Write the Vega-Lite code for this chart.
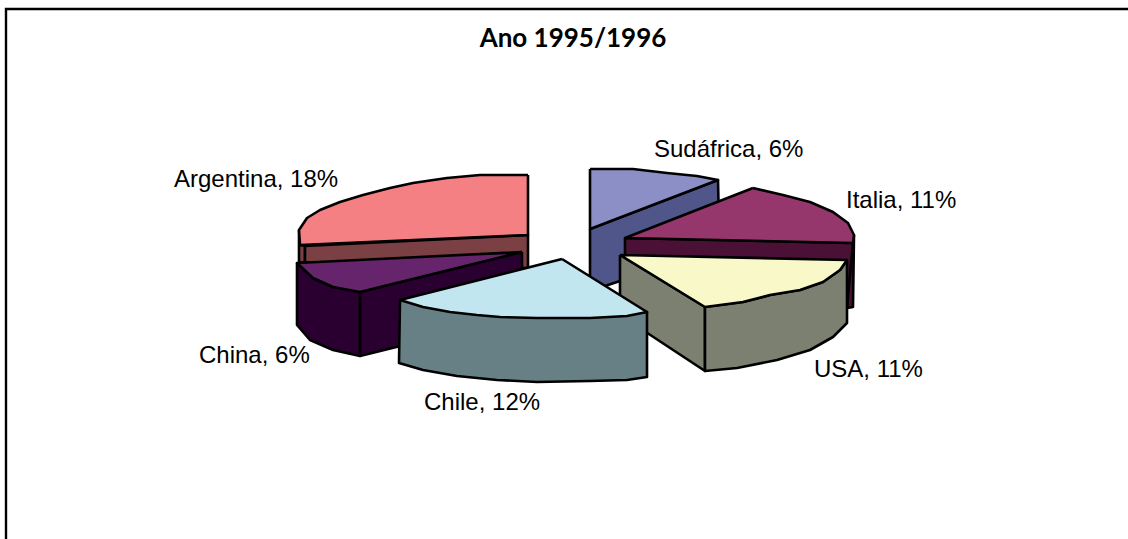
{"$schema":"https://vega.github.io/schema/vega-lite/v6.json","width":1128,"height":539,"padding":0,"autosize":{"type":"none"},"background":"white","view":{"stroke":null},
"title":{"text":"Ano 1995/1996","font":"Lato","fontWeight":"bold","fontSize":26,"color":"#000000","anchor":"middle","frame":"group","orient":"top","offset":-52,"dx":9},
"datasets":{"labels":[{"label":"Argentina, 18%","x":174,"y":180},{"label":"China, 6%","x":199,"y":356},{"label":"Chile, 12%","x":424,"y":403},{"label":"USA, 11%","x":814,"y":370},{"label":"Italia, 11%","x":846,"y":201},{"label":"Sudáfrica, 6%","x":654,"y":150}],
"frame":[{"x":6,"y":539,"i":0},{"x":6,"y":9,"i":1},{"x":1128,"y":9,"i":2}],
"faces":[
{"part":"a_arg_outer","i":0,"x":299,"y":230},{"part":"a_arg_outer","i":1,"x":300,"y":245},{"part":"a_arg_outer","i":2,"x":305,"y":246},{"part":"a_arg_outer","i":3,"x":305,"y":262},{"part":"a_arg_outer","i":4,"x":299,"y":263},{"part":"a_arg_outer","i":5,"x":299,"y":230},
{"part":"b_arg_side","i":0,"x":305,"y":246},{"part":"b_arg_side","i":1,"x":528,"y":235},{"part":"b_arg_side","i":2,"x":528,"y":268},{"part":"b_arg_side","i":3,"x":305,"y":262},{"part":"b_arg_side","i":4,"x":305,"y":246},
{"part":"c_arg_top","i":0,"x":528,"y":175},{"part":"c_arg_top","i":1,"x":480,"y":175},{"part":"c_arg_top","i":2,"x":447,"y":178},{"part":"c_arg_top","i":3,"x":413,"y":183},{"part":"c_arg_top","i":4,"x":390,"y":188},{"part":"c_arg_top","i":5,"x":363,"y":195},{"part":"c_arg_top","i":6,"x":340,"y":202},{"part":"c_arg_top","i":7,"x":320,"y":210},{"part":"c_arg_top","i":8,"x":307,"y":218},{"part":"c_arg_top","i":9,"x":299,"y":230},{"part":"c_arg_top","i":10,"x":300,"y":245},{"part":"c_arg_top","i":11,"x":528,"y":235},{"part":"c_arg_top","i":12,"x":528,"y":175},
{"part":"d_chn_inner","i":0,"x":522,"y":252},{"part":"d_chn_inner","i":1,"x":522,"y":316},{"part":"d_chn_inner","i":2,"x":360,"y":356},{"part":"d_chn_inner","i":3,"x":360,"y":292},{"part":"d_chn_inner","i":4,"x":522,"y":252},
{"part":"e_chn_outer","i":0,"x":297,"y":263},{"part":"e_chn_outer","i":1,"x":297,"y":325},{"part":"e_chn_outer","i":2,"x":310,"y":340},{"part":"e_chn_outer","i":3,"x":333,"y":350},{"part":"e_chn_outer","i":4,"x":360,"y":356},{"part":"e_chn_outer","i":5,"x":360,"y":292},{"part":"e_chn_outer","i":6,"x":333,"y":287},{"part":"e_chn_outer","i":7,"x":313,"y":278},{"part":"e_chn_outer","i":8,"x":297,"y":263},
{"part":"f_chn_top","i":0,"x":522,"y":252},{"part":"f_chn_top","i":1,"x":297,"y":263},{"part":"f_chn_top","i":2,"x":313,"y":278},{"part":"f_chn_top","i":3,"x":333,"y":287},{"part":"f_chn_top","i":4,"x":360,"y":292},{"part":"f_chn_top","i":5,"x":522,"y":252},
{"part":"g_sud_side","i":0,"x":590,"y":229},{"part":"g_sud_side","i":1,"x":718,"y":180},{"part":"g_sud_side","i":2,"x":719,"y":225},{"part":"g_sud_side","i":3,"x":620,"y":281},{"part":"g_sud_side","i":4,"x":590,"y":291},{"part":"g_sud_side","i":5,"x":590,"y":229},
{"part":"h_sud_top","i":0,"x":590,"y":169},{"part":"h_sud_top","i":1,"x":633,"y":169},{"part":"h_sud_top","i":2,"x":667,"y":173},{"part":"h_sud_top","i":3,"x":697,"y":176},{"part":"h_sud_top","i":4,"x":718,"y":180},{"part":"h_sud_top","i":5,"x":590,"y":229},{"part":"h_sud_top","i":6,"x":590,"y":169},
{"part":"i_ita_outer","i":0,"x":854,"y":235},{"part":"i_ita_outer","i":1,"x":853,"y":307},{"part":"i_ita_outer","i":2,"x":847,"y":308},{"part":"i_ita_outer","i":3,"x":847,"y":243},{"part":"i_ita_outer","i":4,"x":854,"y":235},
{"part":"j_ita_side","i":0,"x":625,"y":238},{"part":"j_ita_side","i":1,"x":853,"y":243},{"part":"j_ita_side","i":2,"x":847,"y":307},{"part":"j_ita_side","i":3,"x":625,"y":262},{"part":"j_ita_side","i":4,"x":625,"y":238},
{"part":"k_ita_top","i":0,"x":753,"y":188},{"part":"k_ita_top","i":1,"x":783,"y":195},{"part":"k_ita_top","i":2,"x":810,"y":202},{"part":"k_ita_top","i":3,"x":833,"y":212},{"part":"k_ita_top","i":4,"x":848,"y":223},{"part":"k_ita_top","i":5,"x":854,"y":235},{"part":"k_ita_top","i":6,"x":853,"y":243},{"part":"k_ita_top","i":7,"x":625,"y":238},{"part":"k_ita_top","i":8,"x":753,"y":188},
{"part":"l_usa_inner","i":0,"x":620,"y":255},{"part":"l_usa_inner","i":1,"x":620,"y":315},{"part":"l_usa_inner","i":2,"x":705,"y":371},{"part":"l_usa_inner","i":3,"x":705,"y":307},{"part":"l_usa_inner","i":4,"x":620,"y":255},
{"part":"m_usa_outer","i":0,"x":705,"y":307},{"part":"m_usa_outer","i":1,"x":743,"y":302},{"part":"m_usa_outer","i":2,"x":770,"y":295},{"part":"m_usa_outer","i":3,"x":800,"y":290},{"part":"m_usa_outer","i":4,"x":823,"y":282},{"part":"m_usa_outer","i":5,"x":840,"y":270},{"part":"m_usa_outer","i":6,"x":847,"y":260},{"part":"m_usa_outer","i":7,"x":847,"y":323},{"part":"m_usa_outer","i":8,"x":833,"y":337},{"part":"m_usa_outer","i":9,"x":810,"y":350},{"part":"m_usa_outer","i":10,"x":777,"y":360},{"part":"m_usa_outer","i":11,"x":737,"y":368},{"part":"m_usa_outer","i":12,"x":705,"y":371},{"part":"m_usa_outer","i":13,"x":705,"y":307},
{"part":"n_usa_top","i":0,"x":620,"y":255},{"part":"n_usa_top","i":1,"x":847,"y":260},{"part":"n_usa_top","i":2,"x":840,"y":270},{"part":"n_usa_top","i":3,"x":823,"y":282},{"part":"n_usa_top","i":4,"x":800,"y":290},{"part":"n_usa_top","i":5,"x":770,"y":295},{"part":"n_usa_top","i":6,"x":743,"y":302},{"part":"n_usa_top","i":7,"x":705,"y":307},{"part":"n_usa_top","i":8,"x":620,"y":255},
{"part":"o_chi_side","i":0,"x":400,"y":300},{"part":"o_chi_side","i":1,"x":399,"y":363},{"part":"o_chi_side","i":2,"x":423,"y":370},{"part":"o_chi_side","i":3,"x":457,"y":376},{"part":"o_chi_side","i":4,"x":497,"y":380},{"part":"o_chi_side","i":5,"x":537,"y":382},{"part":"o_chi_side","i":6,"x":590,"y":381},{"part":"o_chi_side","i":7,"x":627,"y":380},{"part":"o_chi_side","i":8,"x":647,"y":377},{"part":"o_chi_side","i":9,"x":647,"y":312},{"part":"o_chi_side","i":10,"x":400,"y":300},
{"part":"p_chi_top","i":0,"x":562,"y":259},{"part":"p_chi_top","i":1,"x":400,"y":300},{"part":"p_chi_top","i":2,"x":423,"y":307},{"part":"p_chi_top","i":3,"x":450,"y":312},{"part":"p_chi_top","i":4,"x":477,"y":315},{"part":"p_chi_top","i":5,"x":500,"y":317},{"part":"p_chi_top","i":6,"x":537,"y":318},{"part":"p_chi_top","i":7,"x":590,"y":318},{"part":"p_chi_top","i":8,"x":627,"y":316},{"part":"p_chi_top","i":9,"x":647,"y":312},{"part":"p_chi_top","i":10,"x":562,"y":259}
]},
"layer":[
{"data":{"name":"faces"},"mark":{"type":"line","stroke":"#000000","strokeWidth":2.6,"strokeJoin":"round"},
"encoding":{"x":{"field":"x","type":"quantitative","scale":{"domain":[0,1128],"nice":false,"zero":false},"axis":null},"y":{"field":"y","type":"quantitative","scale":{"domain":[0,539],"reverse":true,"nice":false,"zero":false},"axis":null},"order":{"field":"i","type":"quantitative"},"detail":{"field":"part"},
"fill":{"field":"part","type":"nominal","legend":null,"scale":{"domain":["a_arg_outer","b_arg_side","c_arg_top","d_chn_inner","e_chn_outer","f_chn_top","g_sud_side","h_sud_top","i_ita_outer","j_ita_side","k_ita_top","l_usa_inner","m_usa_outer","n_usa_top","o_chi_side","p_chi_top"],"range":["#7A4044","#7A4044","#F58084","#2A0030","#2A0030","#66246C","#50558A","#8C8FC5","#4A1035","#4A1035","#95376C","#7C8070","#7C8070","#F8F8C8","#668085","#C2E6F0"]}}}},
{"data":{"name":"frame"},"mark":{"type":"line","stroke":"#000000","strokeWidth":2.4,"clip":false},"encoding":{"x":{"field":"x","type":"quantitative","scale":{"domain":[0,1128],"nice":false,"zero":false},"axis":null},"y":{"field":"y","type":"quantitative","scale":{"domain":[0,539],"reverse":true,"nice":false,"zero":false},"axis":null},"order":{"field":"i","type":"quantitative"}}},
{"data":{"name":"labels"},"mark":{"type":"text","font":"Liberation Sans","fontSize":24,"align":"left","baseline":"middle","color":"#000000"},"encoding":{"x":{"field":"x","type":"quantitative","scale":{"domain":[0,1128],"nice":false,"zero":false},"axis":null},"y":{"field":"y","type":"quantitative","scale":{"domain":[0,539],"reverse":true,"nice":false,"zero":false},"axis":null},"text":{"field":"label"}}}
]}
